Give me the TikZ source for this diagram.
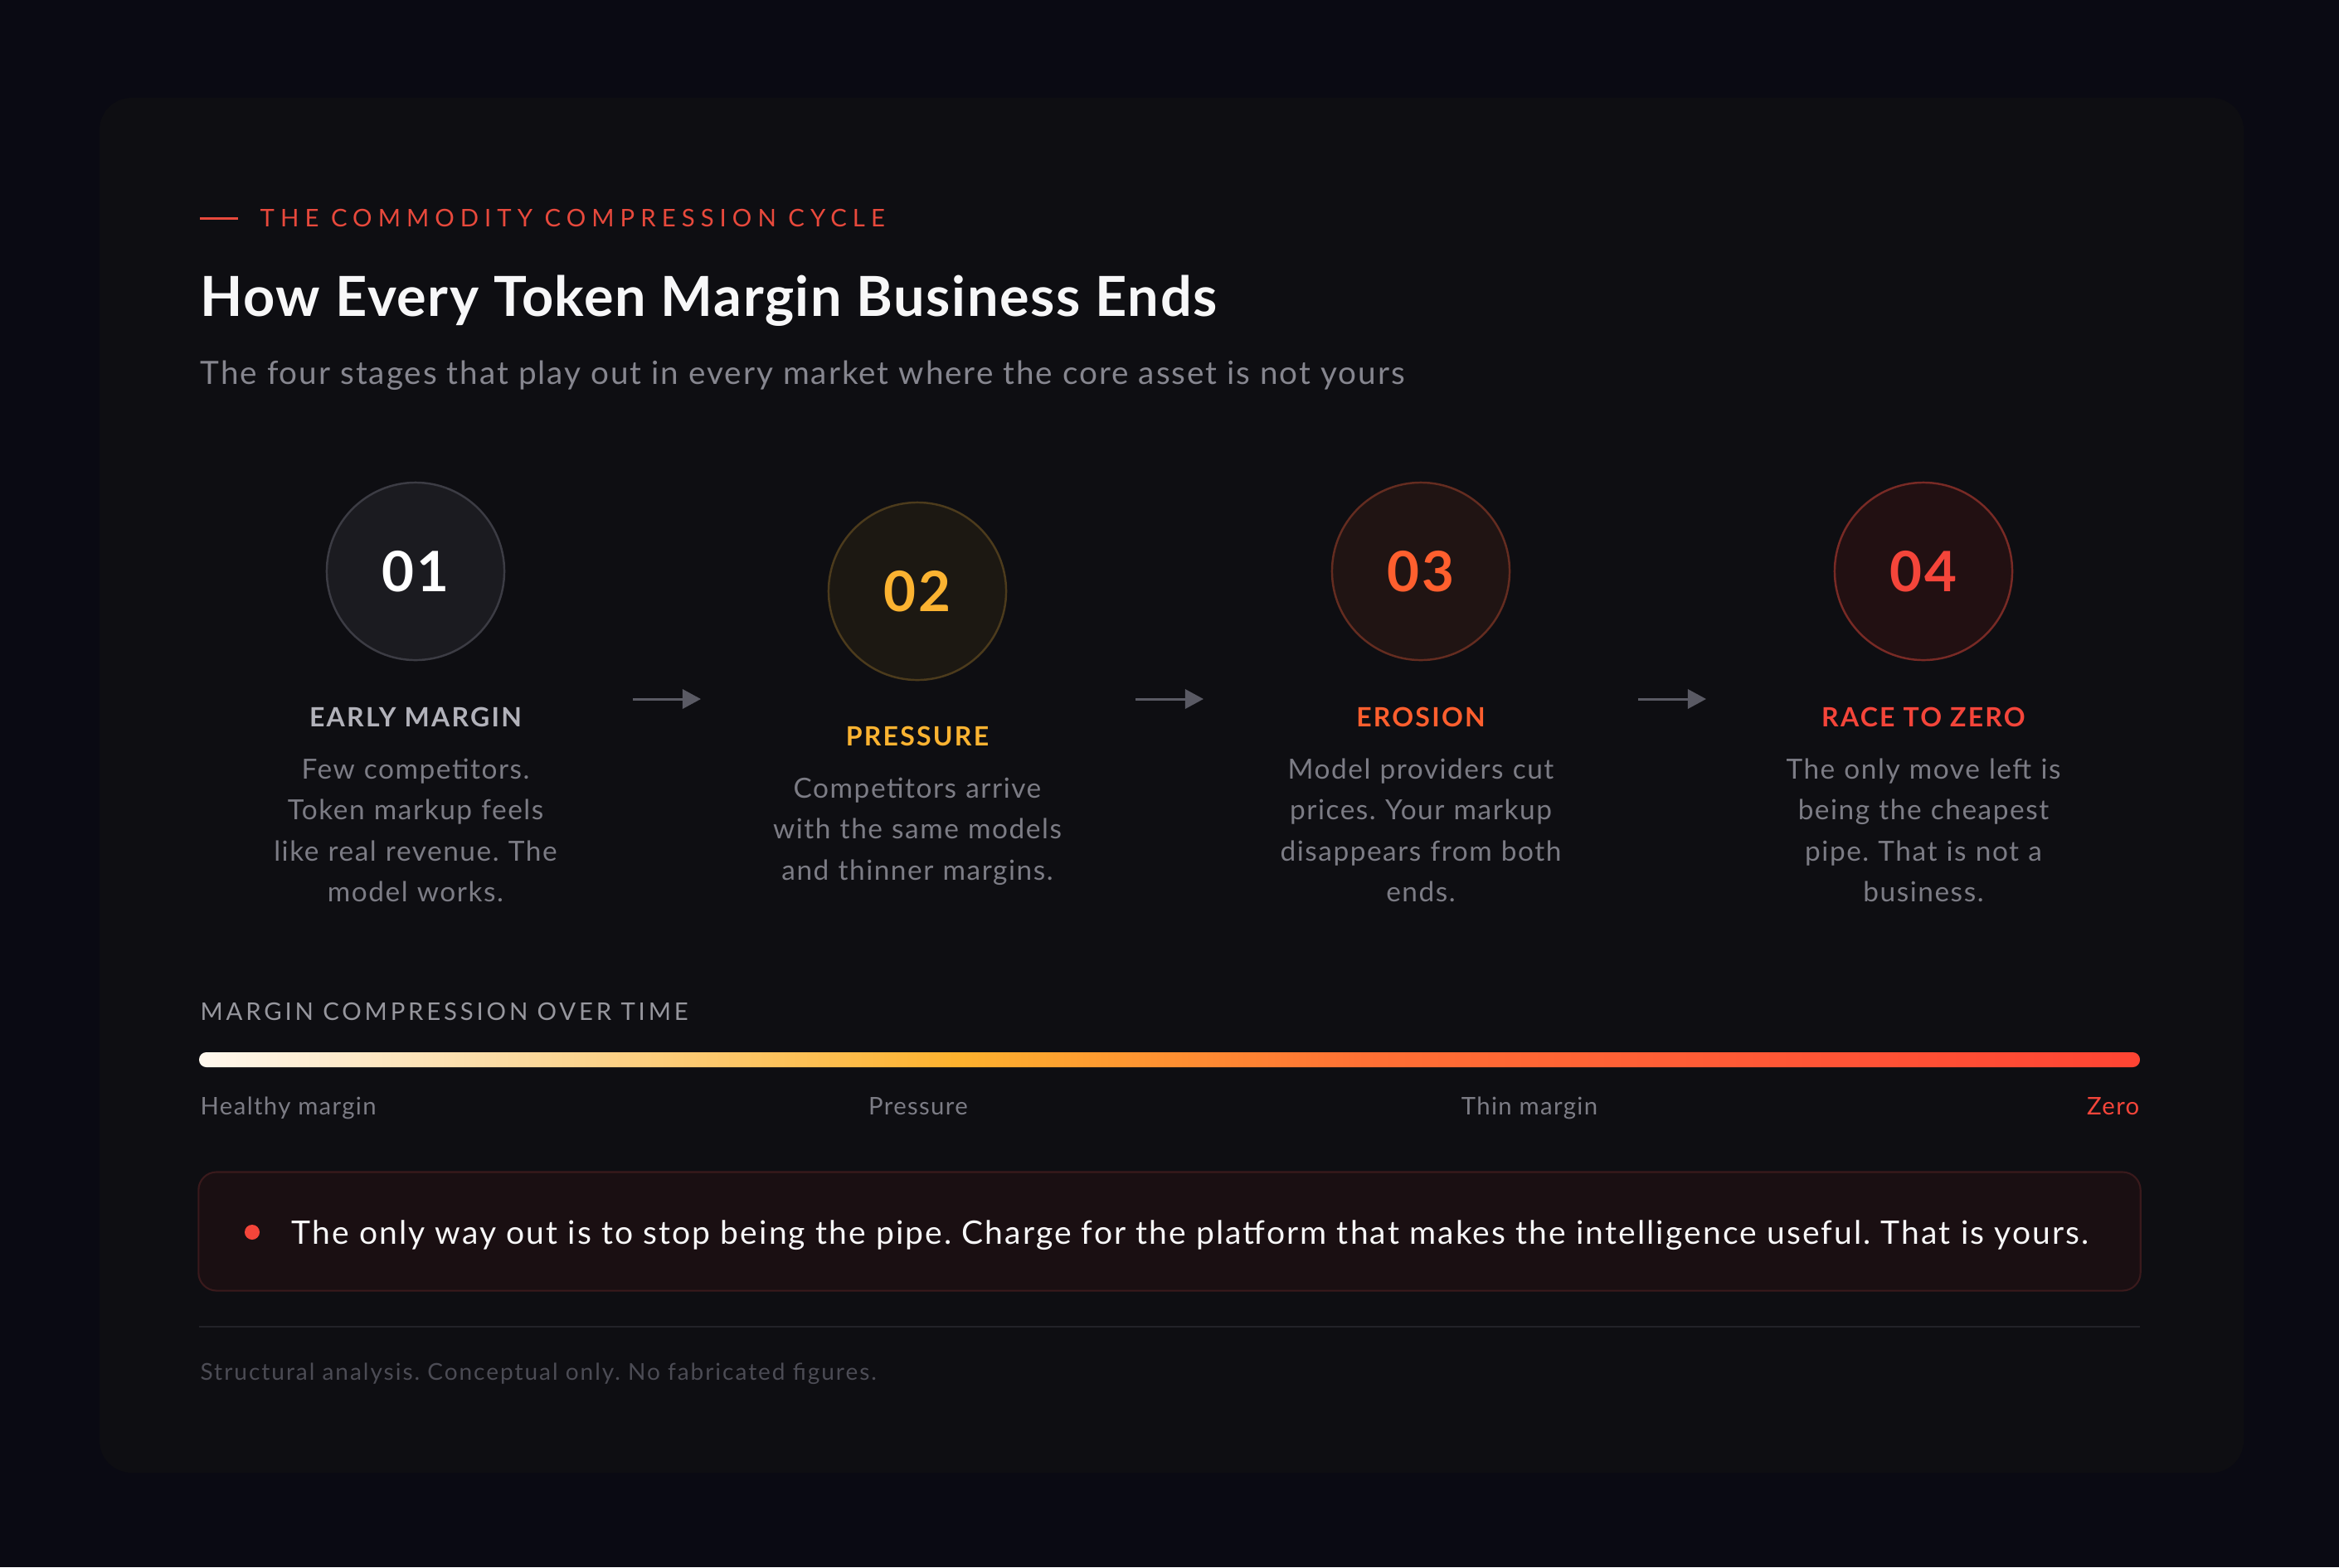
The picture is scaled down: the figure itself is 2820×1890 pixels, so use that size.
\documentclass[tikz,border=0pt]{standalone}
\usepackage{fontspec}
\setmainfont{Lato}[LetterSpace=4.6]
\newfontfamily\kickerfont{Lato}[LetterSpace=24]
\newfontfamily\sectionfont{Lato}[LetterSpace=13]
\newfontfamily\stagefont{Lato}[LetterSpace=7]
\newfontfamily\titlefont{Lato}[LetterSpace=2.4]
\newfontfamily\footfont{Lato}[LetterSpace=7]
\newfontfamily\notefont{Lato}[LetterSpace=5.4]
\newfontfamily\subfont{Lato}[LetterSpace=5.1]
\usepackage{tikz}
\usetikzlibrary{arrows.meta,positioning}
\usepackage{xcolor}
\definecolor{pagebg}{HTML}{0A0A13}
\definecolor{cardbg}{HTML}{0E0E12}
\definecolor{kickred}{HTML}{E8493C}
\definecolor{titlewhite}{HTML}{F7F7F8}
\definecolor{subgray}{HTML}{86868F}
\definecolor{descgray}{HTML}{7C7C85}
\definecolor{labelgray}{HTML}{B2B2BA}
\definecolor{arrowgray}{HTML}{5A5A64}
\definecolor{onefill}{HTML}{1B1B20}
\definecolor{oneline}{HTML}{3C3C44}
\definecolor{twofill}{HTML}{1C1812}
\definecolor{twoline}{HTML}{4C3B1C}
\definecolor{twoamber}{HTML}{FBB331}
\definecolor{threefill}{HTML}{201413}
\definecolor{threeline}{HTML}{642C20}
\definecolor{threeorange}{HTML}{FF5F2E}
\definecolor{fourfill}{HTML}{221012}
\definecolor{fourline}{HTML}{782A25}
\definecolor{fourred}{HTML}{F4453A}
\definecolor{notefill}{HTML}{1A0F12}
\definecolor{noteline}{HTML}{3A1A1C}
\definecolor{sepgray}{HTML}{222228}
\definecolor{footgray}{HTML}{4C4C55}
\definecolor{barA}{HTML}{FFF8EE}
\definecolor{barB}{HTML}{FBDCA6}
\definecolor{barC}{HTML}{FDB22E}
\definecolor{barD}{HTML}{FF7034}
\definecolor{barE}{HTML}{FF5535}
\definecolor{barF}{HTML}{FF4433}
\pgfdeclarehorizontalshading{marginbar}{100bp}{color(0bp)=(barA); color(25bp)=(barA); color(32.5bp)=(barB); color(44.5bp)=(barC); color(55bp)=(barD); color(66.5bp)=(barE); color(75bp)=(barF); color(100bp)=(barF)}
\frenchspacing

\begin{document}
\begin{tikzpicture}[
    x=0.01cm, y=-0.01cm,
    >={Triangle[length=6.3pt, width=6.6pt]},
    stagecircle/.style={circle, minimum size=2.14cm, inner sep=0pt, line width=0.7pt, font=\fontsize{19.1}{22}\selectfont\bfseries},
    stagelabel/.style={anchor=base, inner sep=0pt, font=\stagefont\fontsize{9.1}{11}\selectfont\bfseries},
    stagedesc/.style={anchor=base, inner sep=0pt, text width=4.6cm, align=center, text=descgray, font=\fontsize{9.5}{14.1}\selectfont},
    stagearrow/.style={->, draw=arrowgray, line width=0.85pt},
    barlabel/.style={anchor=base, inner sep=0pt, text=descgray, font=\fontsize{8.34}{10}\selectfont},
    every node/.style={inner sep=0pt}
]

% ---- Page and card ----
\fill[pagebg] (0,0) rectangle (2820,1890);
\fill[cardbg, rounded corners=11pt] (120,118) rectangle (2705,1776);

% ---- Heading ----
\draw[kickred, line width=0.85pt] (241,263) -- (287,263);
\node[anchor=base west, text=kickred, font=\kickerfont\fontsize{8.34}{10}\selectfont] (kicker) at (313,273) {THE COMMODITY COMPRESSION CYCLE};
\node[anchor=base west, text=titlewhite, font=\titlefont\fontsize{18.95}{22}\selectfont\bfseries] (title) at (241,381) {How Every Token Margin Business Ends};
\node[anchor=base west, text=subgray, font=\subfont\fontsize{11}{13}\selectfont] (subtitle) at (241,463) {The four stages that play out in every market where the core asset is not yours};

% ---- Stage circles ----
\node[stagecircle, draw=oneline, fill=onefill, text=white] (one) at (501,689) {01};
\node[stagecircle, draw=twoline, fill=twofill, text=twoamber] (two) at (1106,713) {02};
\node[stagecircle, draw=threeline, fill=threefill, text=threeorange] (three) at (1713,689) {03};
\node[stagecircle, draw=fourline, fill=fourfill, text=fourred] (four) at (2319,689) {04};

% ---- Stage titles ----
\node[stagelabel, text=labelgray] (onelabel) at (501,876) {EARLY MARGIN};
\node[stagelabel, text=twoamber] (twolabel) at (1106,899) {PRESSURE};
\node[stagelabel, text=threeorange] (threelabel) at (1713,876) {EROSION};
\node[stagelabel, text=fourred] (fourlabel) at (2319,876) {RACE TO ZERO};

% ---- Stage texts ----
\node[stagedesc] (onedesc) at (501,939) {Few competitors.\\Token markup feels\\like real revenue. The\\model works.};
\node[stagedesc] (twodesc) at (1106,962) {Competitors arrive\\with the same models\\and thinner margins.};
\node[stagedesc] (threedesc) at (1713,939) {Model providers cut\\prices. Your markup\\disappears from both\\ends.};
\node[stagedesc] (fourdesc) at (2319,939) {The only move left is\\being the cheapest\\pipe. That is not a\\business.};

% ---- Arrows between stages ----
\coordinate (stepAfrom) at (763,843);
\coordinate (stepAto) at (845,843);
\coordinate (stepBfrom) at (1369,843);
\coordinate (stepBto) at (1451,843);
\coordinate (stepCfrom) at (1975,843);
\coordinate (stepCto) at (2057,843);
\draw[stagearrow] (stepAfrom) -- (stepAto);
\draw[stagearrow] (stepBfrom) -- (stepBto);
\draw[stagearrow] (stepCfrom) -- (stepCto);

% ---- Compression bar ----
\node[anchor=base west, text=labelgray!85!black, font=\sectionfont\fontsize{8.34}{10}\selectfont] (bartitle) at (241,1230) {MARGIN COMPRESSION OVER TIME};
\shade[shading=marginbar, rounded corners=2.5pt] (240,1269) rectangle (2580,1287);
\node[barlabel, anchor=base west] (healthy) at (241,1344) {Healthy margin};
\node[barlabel] (pressure) at (1107,1344) {Pressure};
\node[barlabel] (thin) at (1844,1344) {Thin margin};
\node[barlabel, anchor=base east, text=fourred] (zero) at (2580,1344) {Zero};

% ---- Takeaway ----
\node[draw=noteline, fill=notefill, line width=0.6pt, rounded corners=6.2pt, minimum width=23.4cm, minimum height=1.43cm] (note) at (1410,1485) {};
\node[circle, fill=fourred, minimum size=0.18cm] (notedot) at (304,1486) {};
\node[anchor=base west, text=titlewhite, font=\notefont\fontsize{11.1}{13}\selectfont] (notetext) at (351,1500) {The only way out is to stop being the pipe. Charge for the platform that makes the intelligence useful. That is yours.};

% ---- Footer ----
\draw[sepgray, line width=0.7pt] (240,1600) -- (2580,1600);
\node[anchor=base west, text=footgray, font=\footfont\fontsize{7.97}{10}\selectfont] (footer) at (241,1664) {Structural analysis. Conceptual only. No fabricated figures.};

\end{tikzpicture}
\end{document}
